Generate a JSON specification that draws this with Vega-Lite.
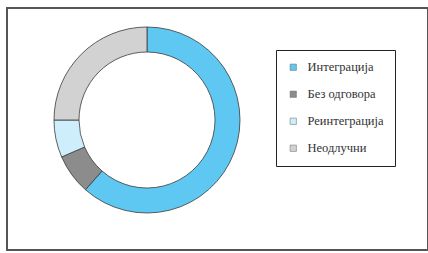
{
  "$schema": "https://vega.github.io/schema/vega-lite/v6.json",
  "width": 421,
  "height": 242,
  "padding": {"left": 7, "top": 8, "right": 0, "bottom": 3},
  "background": "white",
  "data": {
    "values": [
      {"category": "Интеграција", "value": 61.5, "order": 1},
      {"category": "Без одговора", "value": 7, "order": 2},
      {"category": "Реинтеграција", "value": 6.5, "order": 3},
      {"category": "Неодлучни", "value": 25, "order": 4}
    ]
  },
  "mark": {
    "type": "arc",
    "outerRadius": 93,
    "innerRadius": 68,
    "stroke": "#3a3a3a",
    "strokeWidth": 0.8
  },
  "encoding": {
    "theta": {"field": "value", "type": "quantitative", "stack": true},
    "order": {"field": "order", "type": "quantitative"},
    "x": {"value": 140},
    "y": {"value": 112},
    "color": {
      "field": "category",
      "type": "nominal",
      "scale": {
        "domain": ["Интеграција", "Без одговора", "Реинтеграција", "Неодлучни"],
        "range": ["#5ec8f2", "#8c8c8c", "#cfeefb", "#d2d2d2"]
      },
      "legend": {
        "title": null,
        "orient": "none",
        "legendX": 269,
        "legendY": 42,
        "direction": "vertical",
        "strokeColor": "#222222",
        "padding": 11,
        "symbolType": "square",
        "symbolSize": 40,
        "symbolStrokeColor": "#666666",
        "symbolStrokeWidth": 0.5,
        "labelFont": "Liberation Serif",
        "labelFontSize": 12.5,
        "labelColor": "#333333",
        "rowPadding": 14,
        "labelOffset": 8,
        "labelLimit": 200
      }
    }
  },
  "config": {
    "view": {"stroke": "#555555", "strokeWidth": 2}
  }
}
